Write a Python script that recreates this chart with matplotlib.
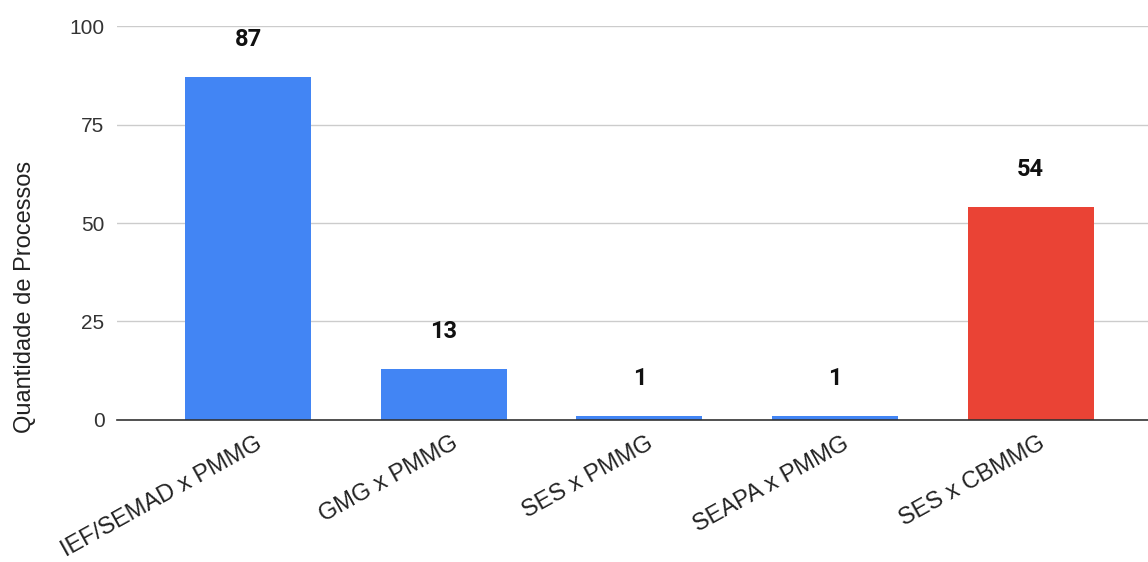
import matplotlib
matplotlib.use("Agg")
import matplotlib.pyplot as plt
import matplotlib.transforms as mtransforms

# Chart data
categories = ["IEF/SEMAD x PMMG", "GMG x PMMG", "SES x PMMG", "SEAPA x PMMG", "SES x CBMMG"]
values = [87, 13, 1, 1, 54]
bar_colors = ["#4285F4", "#4285F4", "#4285F4", "#4285F4", "#EA4335"]
y_ticks = [0, 25, 50, 75, 100]

plt.rcParams["font.family"] = ["Liberation Sans", "DejaVu Sans"]

fig = plt.figure(figsize=(11.48, 5.62), dpi=100)
ax = fig.add_axes([0.1019, 0.2527, 0.8981, 0.701])

x = list(range(len(categories)))
ax.bar(x, values, width=0.645, color=bar_colors, zorder=3)

# Value labels above the bars
for xi, v in zip(x, values):
    ax.annotate(str(v), (xi, v), xytext=(0, 27), textcoords="offset points",
                ha="center", va="center", fontsize=17, fontweight="bold",
                family=["Roboto", "DejaVu Sans"], color="#111111")

ax.set_xlim(-0.67, 4.6)
ax.set_ylim(0, 100)
ax.set_yticks(y_ticks)
ax.tick_params(axis="y", length=0, labelsize=15, pad=9, colors="#333333")
ax.tick_params(axis="x", length=0, pad=9)
ax.set_xticks(x)
ax.set_xticklabels(categories, rotation=29, ha="right", rotation_mode="anchor",
                   fontsize=17, color="#222222")
offset = mtransforms.ScaledTranslation(7 / 100, 0, fig.dpi_scale_trans)
for lbl in ax.get_xticklabels():
    lbl.set_transform(lbl.get_transform() + offset)

ax.grid(axis="y", color="#cccccc", linewidth=1, zorder=0)
for side in ["top", "right", "left"]:
    ax.spines[side].set_visible(False)
ax.spines["bottom"].set_color("#333333")
ax.spines["bottom"].set_linewidth(1.2)
ax.spines["bottom"].set_zorder(4)

ax.set_ylabel("Quantidade de Processos", fontsize=17, color="#222222")
ax.yaxis.set_label_coords(-0.079, 0.312)

fig.savefig("out.png", dpi=100)
